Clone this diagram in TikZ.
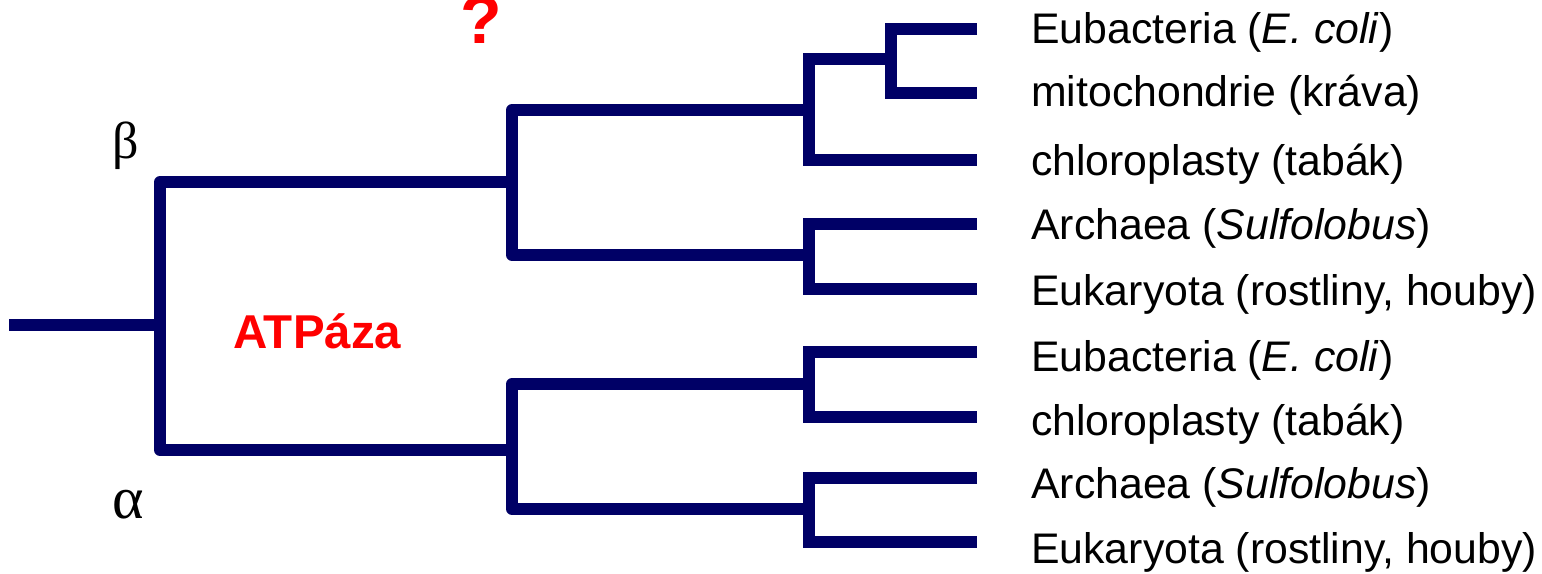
\documentclass[tikz,border=0pt]{standalone}
\usepackage{fontspec}
\setmainfont{Liberation Sans}
\newfontfamily\greekfont{Liberation Serif}
\definecolor{treeblue}{RGB}{0,0,102}
\definecolor{labelred}{RGB}{255,0,0}
\begin{document}
\begin{tikzpicture}[x=1pt,y=-1pt,
  branch/.style={line width=12pt, draw=treeblue, line cap=butt},
  roundbranch/.style={branch, line join=round},
  leaflabel/.style={anchor=base west, inner sep=0pt, font=\fontsize{42.8pt}{50pt}\selectfont},
  greeklabel/.style={anchor=base, inner sep=0pt},
  redlabel/.style={inner sep=0pt, text=labelred, font=\fontsize{47.5pt}{56pt}\selectfont\bfseries}]
\useasboundingbox (0,0) rectangle (1542,573);
% leaves
\coordinate (L1) at (977,29);
\coordinate (L2) at (977,93);
\coordinate (L3) at (977,160);
\coordinate (L4) at (977,224);
\coordinate (L5) at (977,289);
\coordinate (L6) at (977,352);
\coordinate (L7) at (977,417);
\coordinate (L8) at (977,478);
\coordinate (L9) at (977,542);
% internal nodes
\coordinate (d1) at (891,59);
\coordinate (c1) at (809,110);
\coordinate (c2) at (809,255);
\coordinate (c3) at (809,384);
\coordinate (c4) at (809,509);
\coordinate (b) at (512,182);
\coordinate (a) at (512,450);
\coordinate (n0) at (160,325);
\coordinate (root) at (9,325);
% branches
\draw[branch] (root) -- (n0);
\draw[roundbranch] (b) -| (n0) |- (a);
\draw[roundbranch] (c1) -| (b) |- (c2);
\draw[roundbranch] (c3) -| (a) |- (c4);
\draw[branch] (d1) -| (c1) |- (L3);
\draw[branch] (L1) -| (d1) |- (L2);
\draw[branch] (L4) -| (c2) |- (L5);
\draw[branch] (L6) -| (c3) |- (L7);
\draw[branch] (L8) -| (c4) |- (L9);
% labels
\node[leaflabel] (t1) at (1031,43) {Eubacteria (\textit{E. coli})};
\node[leaflabel] (t2) at (1031,106) {mitochondrie (kráva)};
\node[leaflabel] (t3) at (1031,175) {chloroplasty (tabák)};
\node[leaflabel] (t4) at (1031,239) {Archaea (\textit{Sulfolobus})};
\node[leaflabel] (t5) at (1031,305) {Eukaryota (rostliny, houby)};
\node[leaflabel] (t6) at (1031,371) {Eubacteria (\textit{E. coli})};
\node[leaflabel] (t7) at (1031,435) {chloroplasty (tabák)};
\node[leaflabel] (t8) at (1031,498) {Archaea (\textit{Sulfolobus})};
\node[leaflabel] (t9) at (1031,563) {Eukaryota (rostliny, houby)};
\node[greeklabel, font=\fontsize{52pt}{60pt}\selectfont\greekfont] (beta) at (126,158) {β};
\node[greeklabel, font=\fontsize{60pt}{66pt}\selectfont\greekfont] (alpha) at (128,518) {α};
\node[redlabel, anchor=base west] (atp) at (233,348) {ATPáza};
\node[redlabel, anchor=base, font=\fontsize{68pt}{72pt}\selectfont\bfseries] (qm) at (481,43) {?};
\end{tikzpicture}
\end{document}
